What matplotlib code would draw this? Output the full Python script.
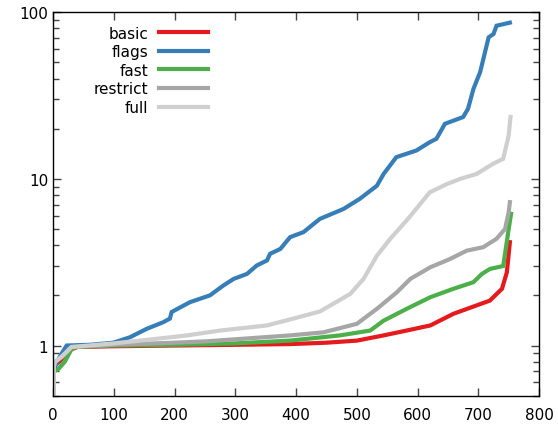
import numpy as np
import matplotlib.pyplot as plt
from matplotlib.ticker import FixedLocator, LogLocator, NullFormatter, FixedFormatter

# Values (sorted per-case ratios, log scale)
basic_x = [0, 1, 10, 20, 30, 40, 100, 200, 300, 390, 450, 500, 544, 582, 621, 659, 697, 719, 739, 747, 752]
basic_y = [0.3, 0.75, 0.8, 0.88, 0.95, 0.98, 0.99, 1.0, 1.01, 1.02, 1.04, 1.07, 1.15, 1.23, 1.32, 1.55, 1.74, 1.86, 2.19, 2.75, 4.17]

flags_x = [0, 1, 10, 22, 60, 99, 126, 154, 181, 192, 195, 225, 258, 280, 297, 319, 335, 352, 357, 374,
           390, 412, 439, 478, 505, 533, 544, 565, 598, 620, 631, 645, 675, 683, 692, 703, 717, 725, 730, 752]
flags_y = [0.3, 0.72, 0.85, 1.0, 1.01, 1.04, 1.12, 1.26, 1.38, 1.45, 1.59, 1.82, 2.0, 2.29, 2.51, 2.69, 3.02, 3.24, 3.55, 3.8,
           4.47, 4.79, 5.75, 6.6, 7.6, 9.1, 10.7, 13.5, 14.8, 16.6, 17.4, 21.4, 23.5, 26.3, 34.7, 43.7, 70.7, 74, 83, 86.6]

fast_x = [0, 1, 8, 19, 30, 38, 100, 200, 300, 390, 472, 522, 544, 582, 621, 659, 692, 706, 719, 741, 746, 750, 754]
fast_y = [0.3, 0.7, 0.72, 0.8, 0.95, 0.98, 1.0, 1.01, 1.03, 1.07, 1.15, 1.23, 1.41, 1.66, 1.95, 2.19, 2.4, 2.69, 2.88, 3.0, 3.98, 5.0, 6.17]

restrict_x = [0, 1, 3, 14, 30, 100, 200, 253, 300, 390, 445, 500, 533, 566, 588, 621, 653, 681, 708, 730, 744, 750, 752]
restrict_y = [0.3, 0.75, 0.8, 0.85, 0.98, 1.01, 1.04, 1.06, 1.09, 1.15, 1.2, 1.35, 1.66, 2.09, 2.51, 2.95, 3.3, 3.71, 3.89, 4.37, 5.0, 6.3, 7.25]

full_x = [0, 1, 3, 14, 30, 100, 143, 220, 275, 352, 395, 439, 489, 511, 533, 555, 585, 620, 648, 670, 697, 724, 741, 750, 753]
full_y = [0.3, 0.75, 0.8, 0.86, 0.98, 1.03, 1.07, 1.15, 1.23, 1.32, 1.45, 1.6, 2.04, 2.51, 3.46, 4.37, 5.8, 8.3, 9.3, 10.0, 10.7, 12.3, 13.2, 18.2, 23.5]

series = [
    ("basic", basic_x, basic_y, "#e41a1c"),
    ("flags", flags_x, flags_y, "#377eb8"),
    ("fast", fast_x, fast_y, "#4daf4a"),
    ("restrict", restrict_x, restrict_y, "#a6a6a6"),
    ("full", full_x, full_y, "#cfcfcf"),
]

fig = plt.figure(figsize=(5.58, 4.27), dpi=100)
ax = fig.add_axes([0.0955, 0.071, 0.8705, 0.898])

for name, xs, ys, col in series:
    ax.plot(xs, ys, color=col, lw=3, label=name, solid_joinstyle="miter")

ax.set_yscale("log")
ax.set_xlim(0, 800)
ax.set_ylim(0.5, 100)

ax.set_xticks(np.arange(0, 801, 100))
ax.yaxis.set_major_locator(FixedLocator([1, 10, 100]))
ax.yaxis.set_major_formatter(FixedFormatter(["1", "10", "100"]))
ax.yaxis.set_minor_locator(LogLocator(base=10, subs=np.arange(2, 10)))
ax.yaxis.set_minor_formatter(NullFormatter())

ax.tick_params(which="both", direction="in", top=True, right=True, labelsize=11, color="#444444")
ax.tick_params(which="major", length=6, width=1)
ax.tick_params(which="minor", length=4, width=1)
ax.tick_params(axis="x", pad=8)
for sp in ax.spines.values():
    sp.set_linewidth(1)

ax.legend(loc="upper left", bbox_to_anchor=(0.068, 0.985), frameon=False, markerfirst=False,
          fontsize=11, handlelength=3.2, handletextpad=0.7, labelspacing=0.235, borderpad=0)

fig.savefig("out.png", dpi=100)
